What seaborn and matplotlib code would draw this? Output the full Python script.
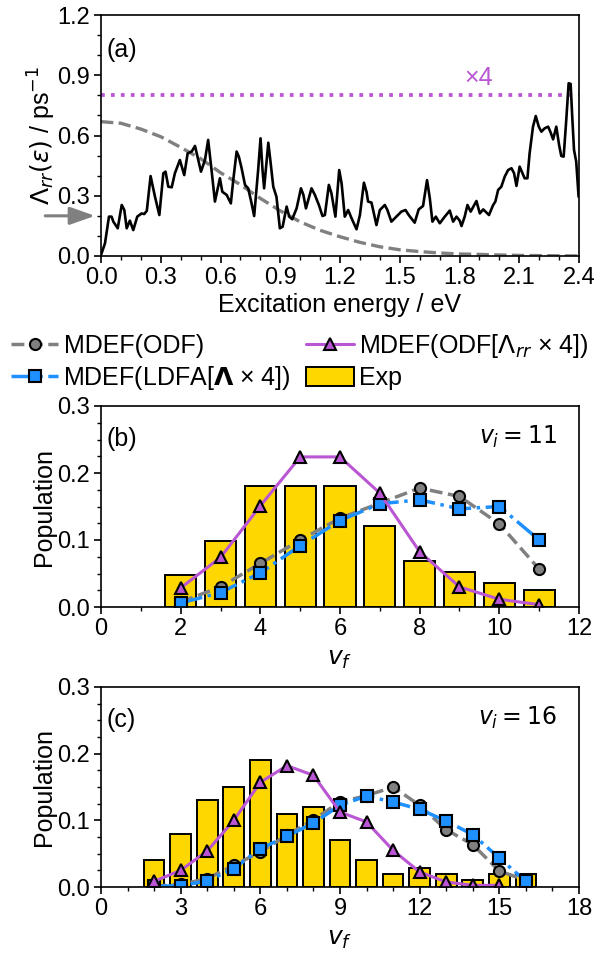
import numpy as np
import pandas as pd
import matplotlib
matplotlib.use("Agg")
import matplotlib.pyplot as plt
from matplotlib.ticker import MultipleLocator, FormatStrFormatter
from matplotlib.lines import Line2D
from matplotlib.patches import Patch
import seaborn as sns

# ---------------- data: panel (a) ----------------
energy_a = [0.000, 0.020, 0.040, 0.053, 0.062, 0.084, 0.104, 0.117, 0.129, 0.145,
            0.162, 0.182, 0.204, 0.217, 0.230, 0.249, 0.271, 0.293, 0.313, 0.324,
            0.338, 0.355, 0.371, 0.396, 0.418, 0.435, 0.455, 0.472, 0.502, 0.522,
            0.538, 0.555, 0.572, 0.597, 0.609, 0.631, 0.652, 0.664, 0.681, 0.692,
            0.706, 0.723, 0.739, 0.756, 0.769, 0.789, 0.801, 0.811, 0.819, 0.840,
            0.851, 0.865, 0.881, 0.898, 0.912, 0.932, 0.945, 0.960, 0.982, 1.004,
            1.016, 1.029, 1.057, 1.074, 1.094, 1.112, 1.124, 1.144, 1.157, 1.177,
            1.196, 1.208, 1.224, 1.241, 1.258, 1.283, 1.300, 1.320, 1.333, 1.341,
            1.358, 1.383, 1.400, 1.425, 1.438, 1.458, 1.483, 1.508, 1.529, 1.545,
            1.575, 1.595, 1.617, 1.637, 1.651, 1.664, 1.681, 1.701, 1.726, 1.751,
            1.768, 1.785, 1.801, 1.810, 1.826, 1.840, 1.856, 1.885, 1.902, 1.919,
            1.948, 1.969, 1.980, 1.994, 2.010, 2.027, 2.044, 2.061, 2.074, 2.086,
            2.102, 2.116, 2.127, 2.141, 2.152, 2.169, 2.183, 2.198, 2.211, 2.228,
            2.245, 2.256, 2.270, 2.286, 2.300, 2.311, 2.323, 2.336, 2.348, 2.358,
            2.366, 2.375, 2.386, 2.398]
lambda_rr = [0.005, 0.063, 0.196, 0.196, 0.171, 0.138, 0.254, 0.229, 0.138, 0.176,
             0.129, 0.196, 0.212, 0.209, 0.225, 0.398, 0.295, 0.204, 0.412, 0.420,
             0.345, 0.342, 0.412, 0.478, 0.403, 0.511, 0.520, 0.548, 0.420, 0.478,
             0.578, 0.428, 0.271, 0.387, 0.320, 0.304, 0.262, 0.378, 0.520, 0.495,
             0.437, 0.354, 0.337, 0.262, 0.199, 0.428, 0.586, 0.428, 0.337, 0.564,
             0.470, 0.345, 0.295, 0.138, 0.146, 0.246, 0.196, 0.183, 0.237, 0.337,
             0.305, 0.237, 0.337, 0.304, 0.254, 0.199, 0.204, 0.354, 0.312, 0.196,
             0.428, 0.362, 0.196, 0.229, 0.188, 0.133, 0.204, 0.365, 0.320, 0.271,
             0.266, 0.154, 0.229, 0.254, 0.229, 0.171, 0.196, 0.221, 0.229, 0.204,
             0.166, 0.232, 0.249, 0.378, 0.287, 0.171, 0.196, 0.163, 0.196, 0.226,
             0.171, 0.196, 0.176, 0.149, 0.196, 0.254, 0.221, 0.274, 0.212, 0.232,
             0.204, 0.254, 0.271, 0.329, 0.345, 0.395, 0.428, 0.437, 0.412, 0.349,
             0.445, 0.412, 0.387, 0.387, 0.511, 0.644, 0.697, 0.644, 0.619, 0.636,
             0.644, 0.619, 0.581, 0.644, 0.553, 0.498, 0.495, 0.677, 0.860, 0.857,
             0.694, 0.528, 0.470, 0.295]

energy_odf = [0.0, 0.1, 0.2, 0.3, 0.4, 0.5, 0.6, 0.7, 0.8, 0.9, 1.0, 1.1, 1.2,
              1.3, 1.4, 1.5, 1.6, 1.7, 1.8, 1.9, 2.0, 2.1, 2.2, 2.3, 2.4]
lambda_odf = [0.669, 0.661, 0.632, 0.594, 0.541, 0.485, 0.415, 0.355, 0.287, 0.225,
              0.170, 0.128, 0.096, 0.068, 0.046, 0.031, 0.022, 0.015, 0.010, 0.008,
              0.005, 0.003, 0.002, 0.001, 0.0005]

x4_level = 0.8          # ODF friction scaled x4
arrow_level = 0.2       # LDFA value marked by arrow

# ---------------- data: panel (b), v_i = 11 ----------------
vf_b = [2, 3, 4, 5, 6, 7, 8, 9, 10, 11]
exp_b = [0.0475, 0.099, 0.181, 0.181, 0.181, 0.121, 0.0685, 0.0525, 0.036, 0.026]
odf_b = [0.0075, 0.030, 0.065, 0.100, 0.1325, 0.155, 0.1775, 0.165, 0.124, 0.0565]
odf4_b = [0.0285, 0.074, 0.151, 0.224, 0.224, 0.170, 0.0825, 0.030, 0.0115, 0.0035]
ldfa4_b = [0.006, 0.0215, 0.051, 0.0915, 0.129, 0.154, 0.160, 0.1465, 0.150, 0.100]

# ---------------- data: panel (c), v_i = 16 ----------------
vf_c = [2, 3, 4, 5, 6, 7, 8, 9, 10, 11, 12, 13, 14, 15, 16]
exp_c = [0.040, 0.080, 0.130, 0.150, 0.190, 0.110, 0.120, 0.070, 0.040, 0.020,
         0.029, 0.020, 0.010, 0.020, 0.020]
odf_c = [0.001, 0.004, 0.0125, 0.0325, 0.0525, 0.0775, 0.101, 0.1275, 0.137, 0.150,
         0.1225, 0.086, 0.0635, 0.024, 0.010]
odf4_c = [0.0085, 0.025, 0.054, 0.100, 0.157, 0.182, 0.1675, 0.1125, 0.0975, 0.055,
          0.0225, 0.0075, 0.0025, 0.0025]
vf_c4 = vf_c[:14]
ldfa4_c = [0.001, 0.002, 0.009, 0.0275, 0.0575, 0.076, 0.096, 0.1225, 0.1365, 0.1275,
           0.1165, 0.099, 0.0785, 0.0435, 0.0085]

# ---------------- style ----------------
sns.set_theme(style="ticks", rc={
    "axes.edgecolor": "black", "text.color": "black", "axes.labelcolor": "black",
    "xtick.color": "black", "ytick.color": "black",
})
plt.rcParams["font.family"] = ["Liberation Sans", "DejaVu Sans"]
plt.rcParams["mathtext.fontset"] = "dejavusans"
FS = 18
TFS = 17
plt.rcParams.update({"font.size": FS, "axes.labelsize": FS, "xtick.labelsize": TFS,
                     "ytick.labelsize": TFS, "legend.fontsize": FS,
                     "axes.linewidth": 1.2})

GRAY = "#808080"
PURPLE = "#BA55D3"
BLUE = "#1E90FF"
GOLD = "#FFD700"
MS = 8
MEW = 1.5

W, H = 595, 960
fig = plt.figure(figsize=(W / 100, H / 100), dpi=100)
ax_a = fig.add_axes([101 / W, 1 - 256 / H, 478 / W, 241 / H])
ax_b = fig.add_axes([101 / W, 1 - 607 / H, 478 / W, 201 / H])
ax_c = fig.add_axes([101 / W, 1 - 887 / H, 478 / W, 200 / H])


def style_ticks(ax):
    ax.tick_params(which="major", direction="out", length=5, width=1.2,
                   top=False, right=False, pad=3)
    ax.tick_params(which="minor", direction="out", length=3, width=1.0,
                   top=False, right=False)
    for s in ax.spines.values():
        s.set_linewidth(1.2)
        s.set_color("black")


# ---------------- panel (a) ----------------
sns.lineplot(x=[energy_a[0], 2.4], y=[x4_level, x4_level], ax=ax_a, color=PURPLE,
             linestyle=":", lw=2.7, estimator=None)
sns.lineplot(x=energy_odf, y=lambda_odf, ax=ax_a, color=GRAY, linestyle="--",
             lw=2.4, estimator=None)
sns.lineplot(x=energy_a, y=lambda_rr, ax=ax_a, color="black", lw=1.9,
             estimator=None, sort=False)
ax_a.set_xlim(0, 2.4)
ax_a.set_ylim(0, 1.2)
ax_a.xaxis.set_major_locator(MultipleLocator(0.3))
ax_a.xaxis.set_minor_locator(MultipleLocator(0.1))
ax_a.yaxis.set_major_locator(MultipleLocator(0.3))
ax_a.yaxis.set_minor_locator(MultipleLocator(0.1))
ax_a.xaxis.set_major_formatter(FormatStrFormatter("%.1f"))
ax_a.yaxis.set_major_formatter(FormatStrFormatter("%.1f"))
ax_a.set_xlabel("Excitation energy / eV", labelpad=3)
ax_a.set_ylabel(r"$\Lambda_{rr}(\varepsilon)$ / ps$^{-1}$", labelpad=-1)
ax_a.text(0.012, 0.855, "(a)", transform=ax_a.transAxes, ha="left", va="center")
ax_a.text(1.895, 0.886, "×4", color=PURPLE, ha="center", va="center")
ax_a.annotate("", xy=(-0.03, arrow_level), xytext=(-0.28, arrow_level),
              xycoords="data", annotation_clip=False,
              arrowprops=dict(arrowstyle="-|>,head_length=0.85,head_width=0.3",
                              color=GRAY, lw=2.2, shrinkA=0, shrinkB=0))
style_ticks(ax_a)


def population_panel(ax, vf, exp, odf, ldfa4, vf4, odf4, xmax, xmajor, label, vi):
    sns.barplot(x=vf, y=exp, ax=ax, native_scale=True, width=0.78, color=GOLD,
                saturation=1, edgecolor="black", linewidth=1.4, errorbar=None)
    sns.lineplot(x=vf, y=odf, ax=ax, color=GRAY, linestyle="--", lw=2.5,
                 marker="o", markersize=MS, markerfacecolor=GRAY,
                 markeredgecolor="black", markeredgewidth=MEW, estimator=None)
    sns.lineplot(x=vf, y=ldfa4, ax=ax, color=BLUE, linestyle="-.", lw=2.5,
                 marker="s", markersize=MS, markerfacecolor=BLUE,
                 markeredgecolor="black", markeredgewidth=MEW, estimator=None)
    sns.lineplot(x=vf4, y=odf4, ax=ax, color=PURPLE, linestyle="-", lw=2.2,
                 marker="^", markersize=MS, markerfacecolor=PURPLE,
                 markeredgecolor="black", markeredgewidth=MEW, estimator=None)
    ax.set_xlim(0, xmax)
    ax.set_ylim(0, 0.3)
    ax.xaxis.set_major_locator(MultipleLocator(xmajor))
    ax.xaxis.set_minor_locator(MultipleLocator(1))
    ax.yaxis.set_major_locator(MultipleLocator(0.1))
    ax.yaxis.set_minor_locator(MultipleLocator(0.025))
    ax.xaxis.set_major_formatter(FormatStrFormatter("%d"))
    ax.yaxis.set_major_formatter(FormatStrFormatter("%.1f"))
    ax.set_xlabel(r"$v_f$", labelpad=5)
    ax.set_ylabel("Population", labelpad=1)
    ax.text(0.012, 0.835, label, transform=ax.transAxes, ha="left", va="center")
    ax.text(0.954, 0.845, r"$v_i = %d$" % vi, transform=ax.transAxes,
            ha="right", va="center", fontsize=17)
    style_ticks(ax)


population_panel(ax_b, vf_b, exp_b, odf_b, ldfa4_b, vf_b, odf4_b, 12, 2, "(b)", 11)
population_panel(ax_c, vf_c, exp_c, odf_c, ldfa4_c, vf_c4, odf4_c, 18, 3, "(c)", 16)

# ---------------- legend ----------------
handles = [
    Line2D([], [], color=GRAY, linestyle="--", lw=2.5, marker="o", markersize=MS,
           markerfacecolor=GRAY, markeredgecolor="black", markeredgewidth=MEW),
    Line2D([], [], color=BLUE, linestyle="-.", lw=2.5, marker="s", markersize=MS,
           markerfacecolor=BLUE, markeredgecolor="black", markeredgewidth=MEW),
    Line2D([], [], color=PURPLE, linestyle="-", lw=2.2, marker="^", markersize=MS,
           markerfacecolor=PURPLE, markeredgecolor="black", markeredgewidth=MEW),
    Patch(facecolor=GOLD, edgecolor="black", linewidth=1.4),
]
labels = ["MDEF(ODF)", r"MDEF(LDFA[$\mathbf{\Lambda}$ × 4])",
          r"MDEF(ODF[$\Lambda_{rr}$ × 4])", "Exp"]
fig.legend(handles, labels, ncol=2, loc="upper left",
           bbox_to_anchor=(11 / W, 1 - 332 / H), frameon=False,
           handlelength=1.9, handleheight=0.8, handletextpad=0.2,
           columnspacing=0.6, borderpad=0, borderaxespad=0, labelspacing=0.25)

fig.savefig("out.png", dpi=100)
